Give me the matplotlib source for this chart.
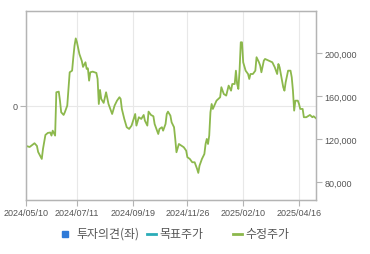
import matplotlib
matplotlib.use("Agg")
import matplotlib.pyplot as plt
from matplotlib.lines import Line2D
from matplotlib.patches import Rectangle
from matplotlib.ticker import FuncFormatter

# trading-day index and adjusted close (수정주가)
day_idx = [0, 3, 7, 9, 10, 13, 14, 16, 18, 20, 21, 22, 24, 25, 27, 28, 29, 31, 32, 34,
           35, 36, 38, 39, 40, 41, 42, 44, 46, 47, 49, 50, 51, 52, 53, 55, 58, 59, 60, 61,
           62, 64, 66, 68, 71, 73, 75, 77, 78, 79, 81, 83, 85, 87, 90, 91, 93, 95, 97, 98,
           100, 101, 103, 105, 106, 109, 110, 112, 113, 115, 116, 117, 119, 120, 122, 123, 124, 126, 128, 130,
           132, 133, 135, 137, 139, 141, 142, 143, 145, 147, 148, 149, 150, 151, 152, 153, 154, 157, 160, 161,
           163, 165, 167, 169, 170, 172, 173, 174, 175, 176, 177, 178, 179, 181, 183, 184, 185, 187, 189, 190,
           192, 193, 194, 196, 197, 200, 203, 205, 207, 208, 209, 212, 213, 214, 216, 218, 219, 220, 221, 222,
           224, 225, 226, 228, 229, 231, 234, 236, 237, 239]
price = [113800, 112800, 116300, 113800, 108200, 101700, 111000, 124000, 125900, 126300,
         123400, 128000, 123400, 163700, 164300, 155900, 145100, 142600, 145100, 151300,
         166800, 182300, 183800, 196300, 207100, 213800, 210200, 199300, 192800, 187300,
         191600, 185400, 186000, 174500, 182300, 182900, 181700, 176100, 152800, 165900,
         157500, 153800, 163700, 152800, 143500, 151300, 155900, 159100, 157500, 148200,
         138900, 131200, 129600, 132700, 143500, 132700, 140500, 138900, 142600, 137300,
         132700, 145700, 142600, 141400, 134200, 124900, 129600, 131200, 128000, 134200,
         143500, 145700, 142000, 135800, 131200, 120300, 107900, 115600, 114100, 112600,
         109400, 103300, 101700, 98600, 98600, 92400, 88700, 95400, 101700, 106300,
         115600, 120300, 115600, 123400, 145100, 152800, 148200, 155900, 159100, 168400,
         162100, 160600, 169900, 165200, 171400, 171400, 183800, 171400, 166800, 183800,
         210200, 210200, 191600, 183800, 180700, 176100, 180700, 180700, 183800, 196300,
         191600, 188500, 182300, 193100, 194700, 193100, 191600, 187000, 180700, 190000,
         187000, 168400, 165200, 173000, 183800, 183800, 177700, 165200, 146600, 155900,
         155900, 152800, 148200, 148200, 140500, 140500, 142600, 140500, 141400, 139500]

tick_idx = [0, 42, 88, 133, 179, 225]
tick_labels = ["2024/05/10", "2024/07/11", "2024/09/19", "2024/11/26", "2025/02/10", "2025/04/16"]
right_ticks = [80000, 120000, 160000, 200000]

spine_c = "#b4b4b4"
grid_c = "#e8e8e8"
txt_c = "#555555"
tick_font = "Liberation Sans"
kr_font = ["Noto Sans CJK KR", "DejaVu Sans"]

fig = plt.figure(figsize=(3.7, 2.55), dpi=100)
ax = fig.add_axes([26 / 370, 1 - 201 / 255, 290 / 370, 189 / 255])
ax2 = ax.twinx()

ax.set_xlim(0, 239)
ax.set_ylim(-1, 1)
ax.set_yticks([0])
ax.set_yticklabels(["0"])
ax.set_xticks(tick_idx)
ax.set_xticklabels(tick_labels)
ax.grid(True, color=grid_c, linewidth=0.8)
ax.set_axisbelow(True)

ax2.plot(day_idx, price, color="#8cb84c", linewidth=1.3)
ax2.set_ylim(63500, 239300)
ax2.set_yticks(right_ticks)
ax2.yaxis.set_major_formatter(FuncFormatter(lambda v, p: f"{int(v):,}"))

for a in (ax, ax2):
    for s in a.spines.values():
        s.set_color(spine_c)
        s.set_linewidth(0.9)
    a.tick_params(colors=spine_c, labelcolor=txt_c, labelsize=6.5, length=4, width=0.8, pad=2)
    for lab in a.get_xticklabels() + a.get_yticklabels():
        lab.set_fontfamily(tick_font)

# legend drawn by hand
ly = 1 - 234.5 / 255
fig.patches.append(Rectangle((61.7 / 370, ly - 3 / 255), 6 / 370, 6 / 255,
                             transform=fig.transFigure, color="#2f7ad8"))
fig.text(76 / 370, ly, "투자의견(좌)", family=kr_font, fontsize=8.6, color=txt_c, va="center")
fig.lines.append(Line2D([147 / 370, 156 / 370], [ly, ly], transform=fig.transFigure,
                        color="#2aacb8", linewidth=2))
fig.text(159 / 370, ly, "목표주가", family=kr_font, fontsize=8.6, color=txt_c, va="center")
fig.lines.append(Line2D([233 / 370, 242 / 370], [ly, ly], transform=fig.transFigure,
                        color="#8cb84c", linewidth=2))
fig.text(245 / 370, ly, "수정주가", family=kr_font, fontsize=8.6, color=txt_c, va="center")

fig.savefig("out.png", dpi=100)
